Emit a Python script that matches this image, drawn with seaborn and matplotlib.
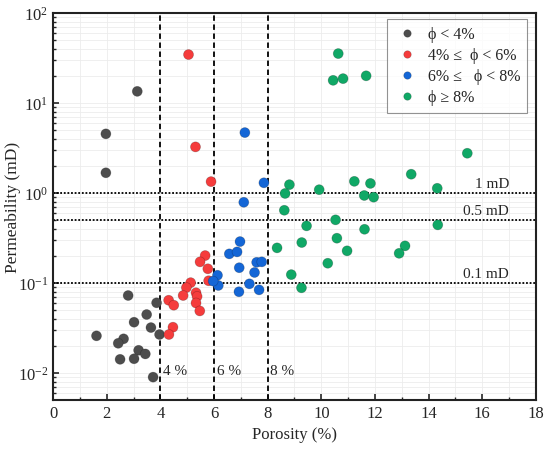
import numpy as np
import pandas as pd
import seaborn as sns
import matplotlib.pyplot as plt

# porosity (%) and permeability (mD), grouped by porosity class
por_a = [1.97, 1.97, 3.14, 2.80, 3.86, 3.49, 3.02, 3.65, 3.97, 1.62, 2.63, 2.43, 3.19, 3.44, 2.50, 3.02, 3.73]
perm_a = [4.55, 1.68, 13.5, 0.0727, 0.0603, 0.0447, 0.0367, 0.032, 0.0268, 0.0259, 0.024, 0.0214, 0.0179, 0.0163, 0.0142, 0.0144, 0.009]

por_b = [5.05, 5.31, 5.89, 5.67, 5.48, 5.77, 5.80, 5.13, 4.97, 4.85, 5.33, 5.37, 5.33, 5.47, 4.31, 4.50, 4.47, 4.32]
perm_b = [34.6, 3.26, 1.34, 0.202, 0.172, 0.144, 0.106, 0.101, 0.089, 0.0727, 0.078, 0.071, 0.060, 0.049, 0.0644, 0.0567, 0.0323, 0.0268]

por_c = [7.15, 7.11, 7.86, 6.97, 6.57, 6.86, 6.94, 7.59, 7.78, 7.51, 6.13, 6.16, 5.97, 7.32, 6.93, 7.68]
perm_c = [4.7, 0.79, 1.30, 0.289, 0.211, 0.222, 0.148, 0.170, 0.172, 0.131, 0.122, 0.094, 0.105, 0.098, 0.080, 0.084]

por_d = [10.63, 10.44, 10.81, 11.67, 15.44, 13.35, 8.81, 8.65, 8.62, 9.92, 11.23, 11.83, 11.60, 11.95,
         14.32, 10.53, 9.45, 11.61, 14.34, 10.58, 9.27, 8.35, 10.96, 13.12, 12.90, 10.24, 8.88, 9.26]
perm_d = [35.5, 17.9, 18.7, 20.1, 2.77, 1.62, 1.24, 0.99, 0.644, 1.09, 1.35, 1.28, 0.94, 0.90,
          1.13, 0.504, 0.432, 0.396, 0.443, 0.315, 0.282, 0.246, 0.228, 0.259, 0.214, 0.166, 0.124, 0.0885]

labels = ['ϕ < 4%', '4% ≤  ϕ < 6%', '6% ≤   ϕ < 8%', 'ϕ ≥ 8%']
colors = ['#4d4d4d', '#f53c3c', '#1466d6', '#10a866']

df = pd.concat([
    pd.DataFrame({'por': p, 'perm': k, 'cls': lab})
    for p, k, lab in zip([por_a, por_b, por_c, por_d], [perm_a, perm_b, perm_c, perm_d], labels)
])

sns.set_style('ticks')
plt.rcParams['font.family'] = ['Liberation Serif', 'DejaVu Serif']
plt.rcParams['mathtext.fontset'] = 'stix'

fig = plt.figure(figsize=(5.5, 4.52), dpi=100)
ax = fig.add_axes([0.0964, 0.1128, 0.8781, 0.856])

# limit lines
for xv, t in zip([4, 6, 8], ['4 %', '6 %', '8 %']):
    ax.axvline(xv, color='black', ls=(0, (3, 2)), lw=1.3, zorder=1)
    ax.text(xv + 0.1, 0.0107, t, fontsize=11, va='center', ha='left')
for yv, t in zip([1, 0.5, 0.1], ['1 mD', '0.5 mD', '0.1 mD']):
    ax.axhline(yv, color='black', ls=(0, (1, 1)), lw=1.3, zorder=1)
    ax.text(17.0, yv * 1.08, t, fontsize=11, va='bottom', ha='right')

sns.scatterplot(data=df, x='por', y='perm', hue='cls', hue_order=labels, palette=colors,
                s=52, edgecolor='#00000040', linewidth=0.5, ax=ax, zorder=3)

ax.set_yscale('log')
ax.set_xlim(0, 18)
ax.set_ylim(10 ** -2.3, 100)
ax.set_xticks(np.arange(0, 19, 2))
ax.set_xticks(np.arange(1, 18, 2), minor=True)
ax.grid(True, which='both', color='#ececec', lw=0.6, zorder=0)
ax.set_axisbelow(True)
ax.tick_params(which='both', direction='in', labelsize=12)
ax.tick_params(which='major', length=4, width=1.2)
ax.tick_params(which='minor', length=2, width=1)
for sp in ax.spines.values():
    sp.set_linewidth(1.5)
    sp.set_color('#222222')
ax.set_xlabel('Porosity (%)', fontsize=12)
ax.set_ylabel('Permeability (mD)', fontsize=12.5)
ax.yaxis.set_label_coords(-0.066, 0.5)

leg = ax.legend(loc='upper right', bbox_to_anchor=(0.982, 0.985), fontsize=11.5, frameon=True,
                fancybox=False, edgecolor='#777777', markerscale=0.75, handletextpad=0.5,
                handlelength=1.6, borderpad=0.45, labelspacing=0.32, borderaxespad=0.0)
leg.get_frame().set_linewidth(0.8)

fig.savefig('out.png', dpi=100)
